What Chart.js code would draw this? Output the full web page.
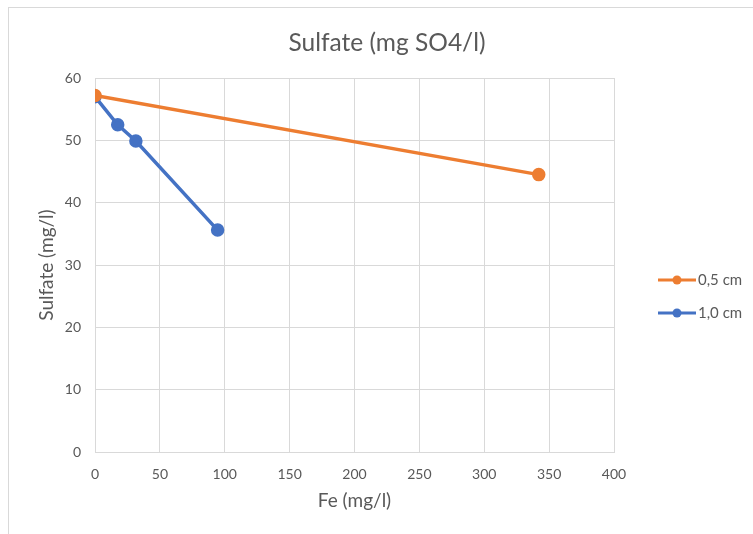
<!DOCTYPE html>
<html>
<head>
<meta charset="utf-8">
<script src="https://cdn.jsdelivr.net/npm/chart.js@4/dist/chart.umd.min.js"></script>
<style>
    html, body { margin: 0; padding: 0; background: #fff; overflow: hidden; }
    #frame {
        position: absolute; left: 8px; top: 7px;
        width: 760px; height: 540px;
        border-left: 1px solid #d9d9d9; border-top: 1px solid #d9d9d9;
    }
    #myChart { position: absolute; left: 0; top: 0; }
</style>
</head>
<body>
<div id="frame"><canvas id="myChart" width="760" height="540"></canvas></div>
<script>
// Séries (Fe em mg/l no eixo x, sulfato em mg/l no eixo y)
const chartTitle = 'Sulfate (mg SO4/l)';
const seriesLabels = ['0,5 cm', '1,0 cm'];
const fe05 = [0, 342];
const sulfate05 = [57.2, 44.5];
const fe10 = [0, 17.5, 31.5, 94.5];
const sulfate10 = [57, 52.5, 49.9, 35.6];
const xTicks = [0, 50, 100, 150, 200, 250, 300, 350, 400];
const yTicks = [0, 10, 20, 30, 40, 50, 60];

const colors = ['#ed7d31', '#4472c4'];
const textColor = '#595959';
const fontFamily = 'Lato, "Open Sans", sans-serif';

function toPoints(xs, ys) {
    return xs.map(function (x, i) { return { x: x, y: ys[i] }; });
}

// Título centralizado no quadro todo e legenda à direita (linha com marcador)
const excelDecor = {
    id: 'excelDecor',
    afterDraw: function (chart) {
        const ctx = chart.ctx;
        const area = chart.chartArea;

        ctx.save();
        ctx.fillStyle = textColor;
        ctx.font = '24.5px ' + fontFamily;
        ctx.textAlign = 'center';
        ctx.textBaseline = 'middle';
        ctx.fillText(chartTitle, chart.width / 2 - 2, 35);
        ctx.restore();

        const x0 = area.right + 44;
        const yMid = (area.top + area.bottom) / 2;
        chart.data.datasets.forEach(function (ds, i) {
            const y = yMid + 15 + i * 33;
            ctx.save();
            ctx.strokeStyle = ds.borderColor;
            ctx.lineWidth = 3;
            ctx.beginPath();
            ctx.moveTo(x0, y);
            ctx.lineTo(x0 + 38, y);
            ctx.stroke();
            ctx.fillStyle = ds.backgroundColor;
            ctx.beginPath();
            ctx.arc(x0 + 19, y, 4.5, 0, Math.PI * 2);
            ctx.fill();
            ctx.fillStyle = textColor;
            ctx.font = '15px ' + fontFamily;
            ctx.textBaseline = 'middle';
            ctx.textAlign = 'left';
            ctx.fillText(ds.label, x0 + 40, y);
            ctx.restore();
        });
    }
};

const ctx = document.getElementById('myChart').getContext('2d');
const myChart = new Chart(ctx, {
    type: 'scatter',
    data: {
        datasets: [
            {
                label: seriesLabels[0],
                data: toPoints(fe05, sulfate05),
                borderColor: colors[0],
                backgroundColor: colors[0],
                showLine: true,
                borderWidth: 3.5,
                pointRadius: 5,
                pointHoverRadius: 5
            },
            {
                label: seriesLabels[1],
                data: toPoints(fe10, sulfate10),
                borderColor: colors[1],
                backgroundColor: colors[1],
                showLine: true,
                borderWidth: 3.5,
                pointRadius: 5,
                pointHoverRadius: 5
            }
        ]
    },
    options: {
        responsive: false,
        animation: false,
        layout: { padding: { left: 0, right: 155, top: 70, bottom: 0 } },
        scales: {
            x: {
                type: 'linear',
                min: 0,
                max: 400,
                afterBuildTicks: function (scale) {
                    scale.ticks = xTicks.map(function (v) { return { value: v }; });
                },
                afterFit: function (scale) { scale.height = 96; },
                grid: { color: '#d9d9d9', lineWidth: 1, drawTicks: false },
                border: { color: '#d9d9d9' },
                ticks: {
                    color: textColor,
                    padding: 14,
                    maxRotation: 0,
                    font: { family: fontFamily, size: 14 }
                },
                title: {
                    display: true,
                    text: 'Fe (mg/l)',
                    color: textColor,
                    font: { family: fontFamily, size: 19 },
                    padding: { top: 0, bottom: 36 }
                }
            },
            y: {
                type: 'linear',
                min: 0,
                max: 60,
                afterBuildTicks: function (scale) {
                    scale.ticks = yTicks.map(function (v) { return { value: v }; });
                },
                afterFit: function (scale) { scale.width = 86; },
                grid: { color: '#d9d9d9', lineWidth: 1, drawTicks: false },
                border: { color: '#d9d9d9' },
                ticks: {
                    color: textColor,
                    padding: 14,
                    font: { family: fontFamily, size: 14 }
                },
                title: {
                    display: true,
                    text: 'Sulfate (mg/l)',
                    color: textColor,
                    font: { family: fontFamily, size: 19 },
                    padding: { top: 26, bottom: 0 }
                }
            }
        },
        plugins: {
            legend: { display: false },
            tooltip: { enabled: false },
            title: { display: false }
        }
    },
    plugins: [excelDecor]
});
</script>
</body>
</html>
